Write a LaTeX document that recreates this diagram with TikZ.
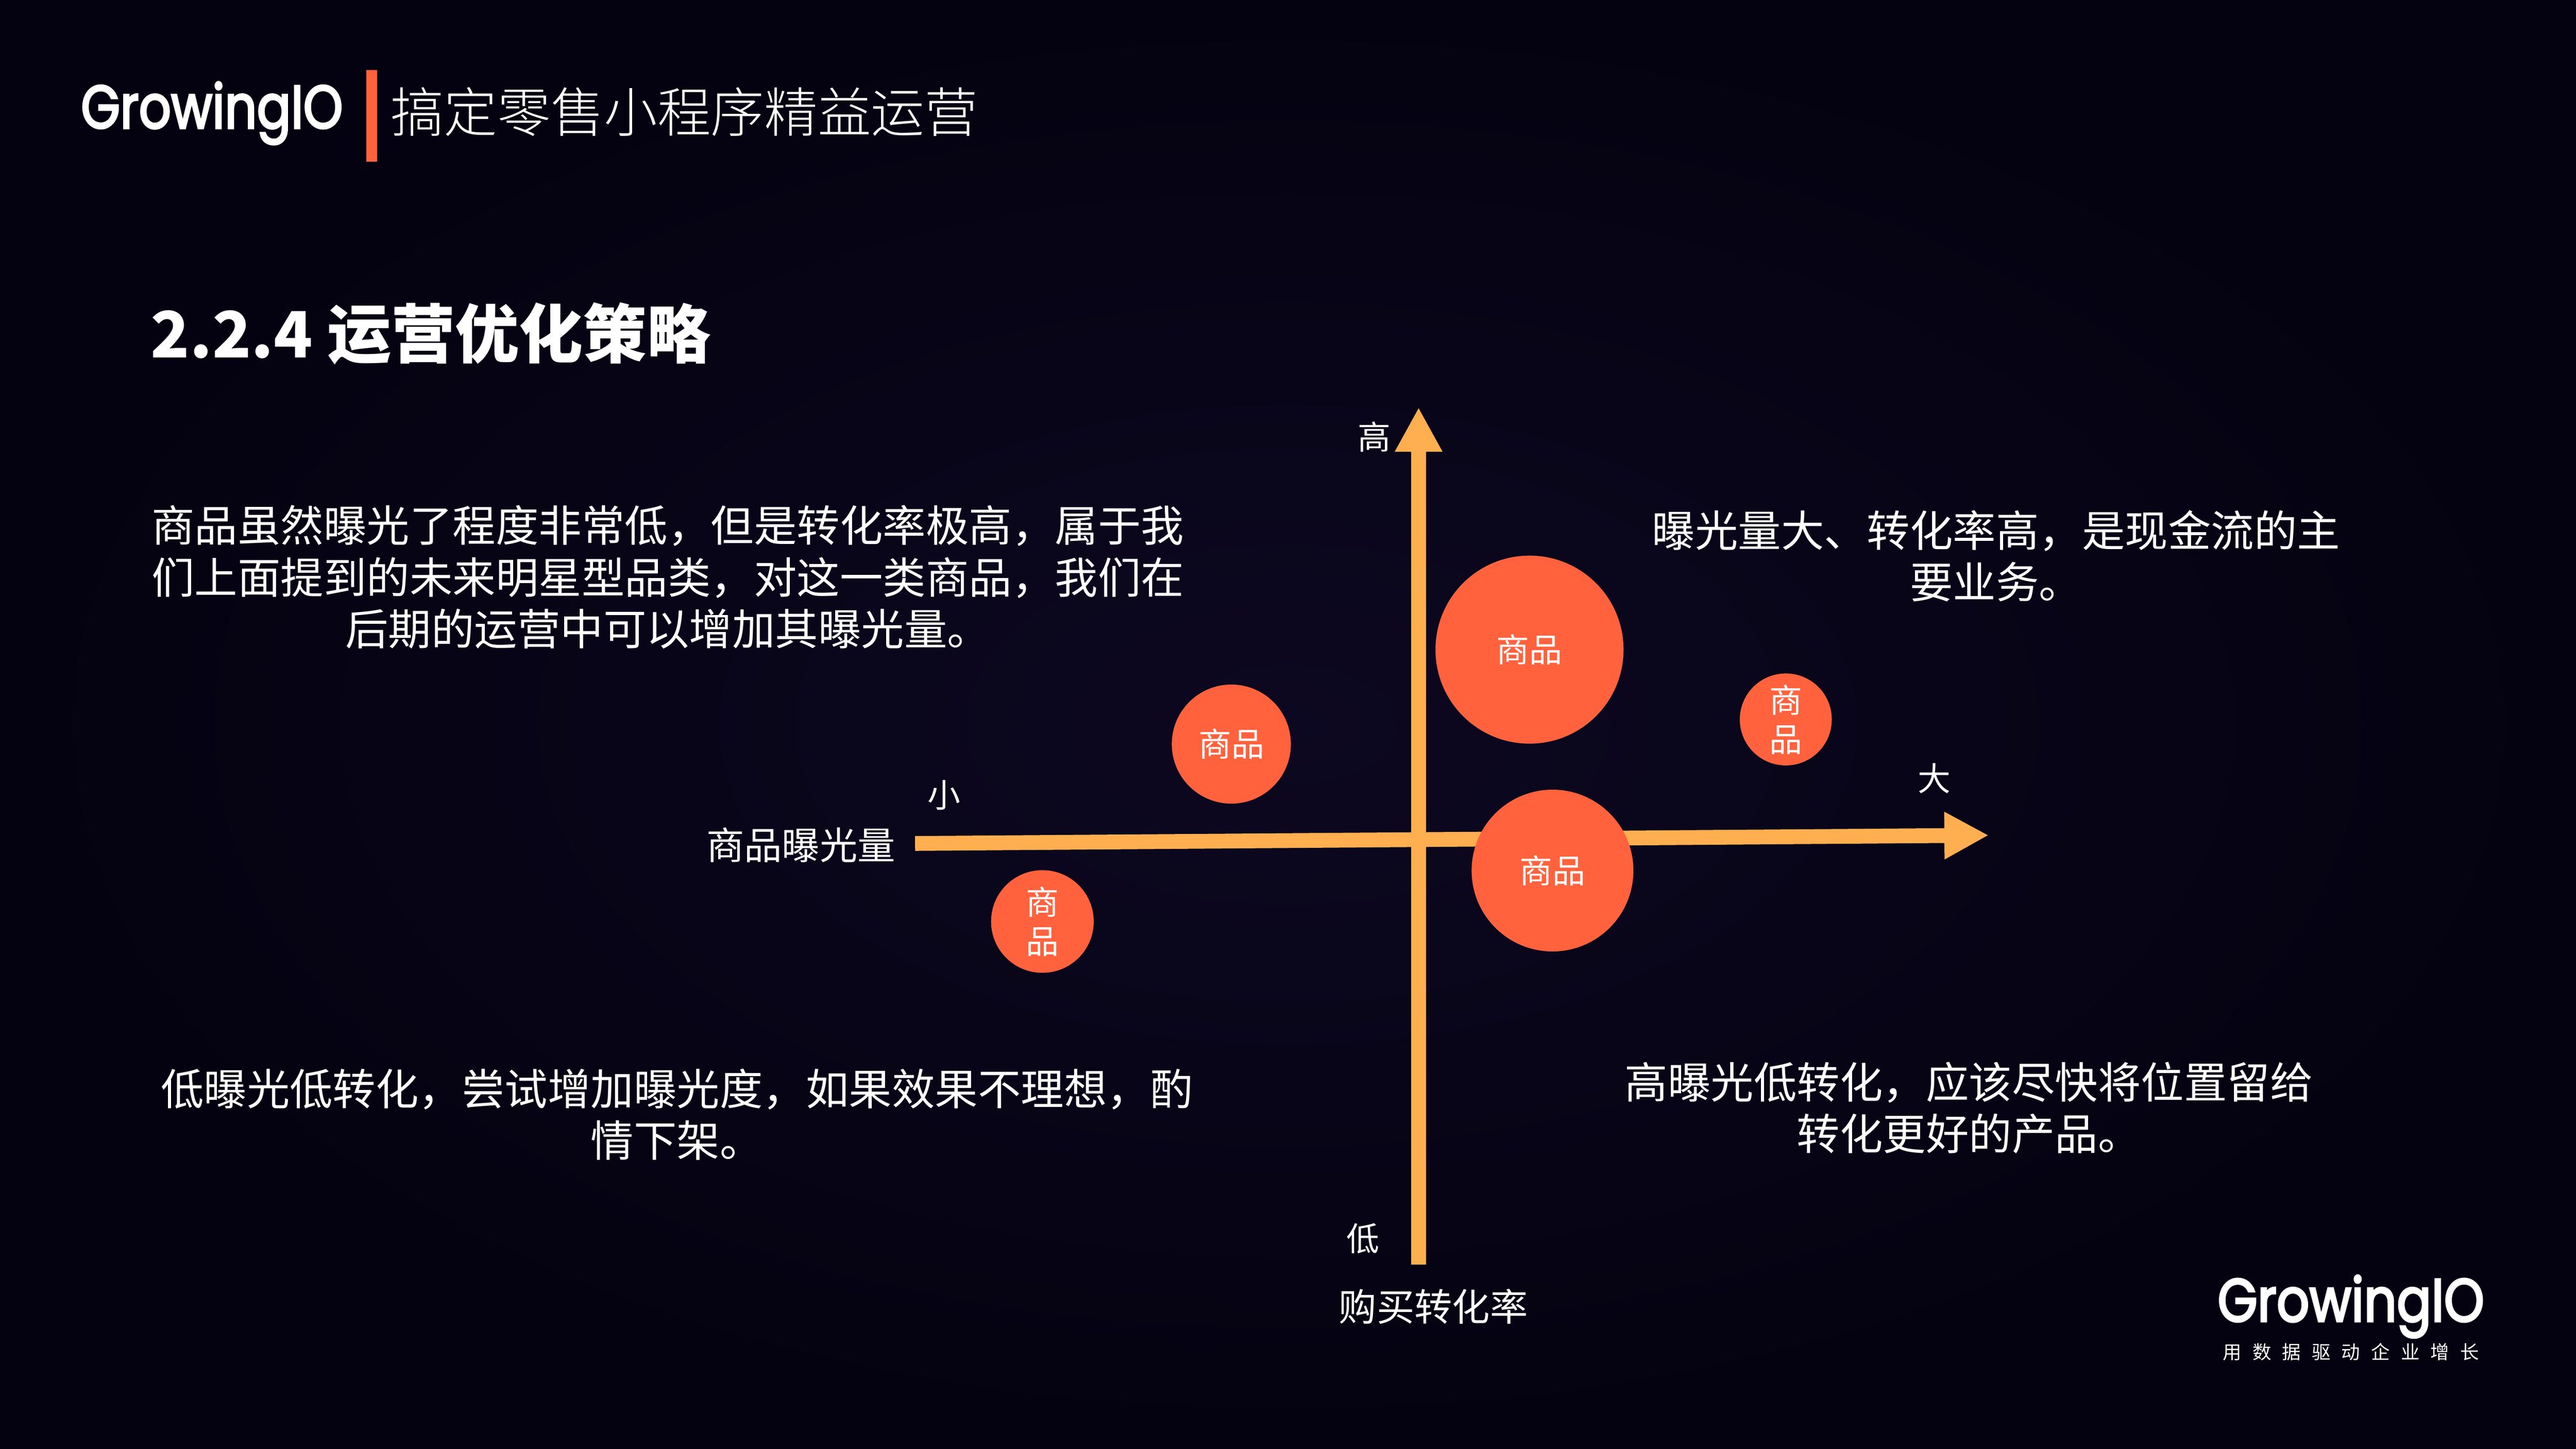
\documentclass[tikz,border=0pt]{standalone}
\usepackage{graphicx}
\usepackage{fontspec}
\setmainfont{Noto Sans CJK SC}
\newfontfamily\logofont[FakeBold=3.5]{Poppins}
\newfontfamily\lightfont{Noto Sans CJK SC Light}
\newfontfamily\slogfont[LetterSpace=58]{Noto Sans CJK SC}
\usetikzlibrary{arrows.meta}
\definecolor{bgin}{RGB}{13,8,33}
\definecolor{bgout}{RGB}{4,2,16}
\definecolor{axiscol}{RGB}{255,175,80}
\definecolor{dotcol}{RGB}{255,98,61}

\begin{document}
\begin{tikzpicture}[x=0.02cm,y=-0.02cm,text=white,
  body/.style={align=center,inner sep=0pt,font=\fontsize{14.9}{17.9}\selectfont},
  lab/.style={inner sep=0pt,font=\fontsize{11.4}{13}\selectfont},
  axlab/.style={inner sep=0pt,font=\fontsize{13.1}{15}\selectfont},
  axis/.style={axiscol,line width=0.18cm,-{Triangle[length=0.54cm,width=0.54cm]}},
  dot/.style={circle,fill=dotcol,inner sep=0pt,align=center,font=\fontsize{11.4}{13.6}\selectfont},
  logo/.style={inner sep=0pt,anchor=base,font=\logofont\fontsize{21}{21}\selectfont}]
  \useasboundingbox (0,0) rectangle (1568,882);
  \shade[inner color=bgin,outer color=bgout] (0,0) rectangle (1568,882);

  % header
  \node[logo] (logotop) at (129,78) {\scalebox{0.83}[1]{GrowingIO}};
  \fill[dotcol] (223,42.6) rectangle (229.4,98.6);
  \node[inner sep=0pt,font=\lightfont\fontsize{18.5}{20}\selectfont] (head) at (416.5,68) {搞定零售小程序精益运营};
  \node[inner sep=0pt,anchor=west,font=\fontsize{22.15}{24}\selectfont\bfseries] (title) at (91.5,203) {2.2.4 运营优化策略};

  % axes
  \coordinate (xlow) at (557,513.5);
  \coordinate (xhigh) at (1210.5,508.5);
  \coordinate (ylow) at (863.5,770);
  \coordinate (yhigh) at (863.5,248);
  \draw[axis] (ylow) -- (yhigh);
  \draw[axis] (xlow) -- (xhigh);
  \node[lab] (high) at (836.5,266) {高};
  \node[lab] (low) at (829.5,754) {低};
  \node[lab] (small) at (574.5,484) {小};
  \node[lab] (big) at (1177.5,474) {大};
  \node[axlab] (xname) at (487.5,514.5) {商品曝光量};
  \node[axlab] (yname) at (872.5,795.5) {购买转化率};

  % goods
  \node[dot,minimum size=2.29cm] (g1) at (931,395.5) {商品};
  \node[dot,minimum size=1.45cm] (g2) at (749.5,453) {商品};
  \node[dot,minimum size=1.97cm] (g3) at (945,530) {商品};
  \node[dot,minimum size=1.12cm] (g4) at (1087,438) {商\\品};
  \node[dot,minimum size=1.25cm] (g5) at (634.5,561) {商\\品};

  % quadrants
  \node[body] (q1) at (406.5,351.3) {商品虽然曝光了程度非常低，但是转化率极高，属于我\\们上面提到的未来明星型品类，对这一类商品，我们在\\后期的运营中可以增加其曝光量。};
  \node[body] (q2) at (1215,338.5) {曝光量大、转化率高，是现金流的主\\要业务。};
  \node[body] (q3) at (412,678.5) {低曝光低转化，尝试增加曝光度，如果效果不理想，酌\\情下架。};
  \node[body] (q4) at (1198.5,674.5) {高曝光低转化，应该尽快将位置留给\\转化更好的产品。};

  % footer
  \node[logo] (logobot) at (1431,804.5) {\scalebox{0.845}[1]{GrowingIO}};
  \node[inner sep=0pt,font=\slogfont\fontsize{6.5}{7}\selectfont] (slog) at (1431,823) {用数据驱动企业增长};
\end{tikzpicture}
\end{document}
